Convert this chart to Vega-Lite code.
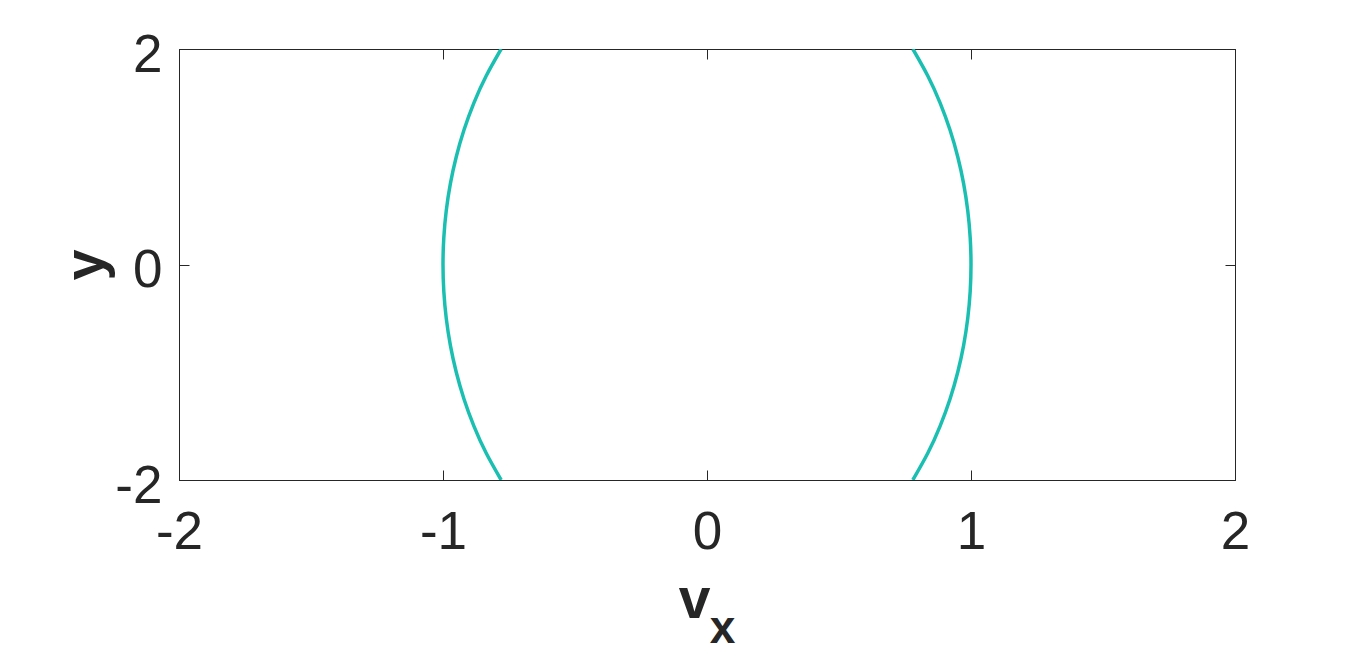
{
  "$schema": "https://vega.github.io/schema/vega-lite/v6.json",
  "width": 1056,
  "height": 431,
  "autosize": "none",
  "padding": {"left": 179, "top": 49, "right": 131, "bottom": 171},
  "background": "white",
  "config": {
    "view": {"stroke": "#262626", "strokeWidth": 1},
    "axis": {
      "grid": false,
      "domainColor": "#262626",
      "domainWidth": 1,
      "tickColor": "#262626",
      "tickWidth": 1,
      "tickSize": -10,
      "labelFont": "Liberation Sans",
      "labelFontSize": 53,
      "labelColor": "#262626",
      "labelFlush": false,
      "labelOverlap": false,
      "titleFont": "Liberation Sans",
      "titleColor": "#262626",
      "titleFontWeight": "bold"
    }
  },
  "data": {
    "values": [
      {"side": "R", "yv": -2, "vx": 0.77974},
      {"side": "R", "yv": -1.75, "vx": 0.83659},
      {"side": "R", "yv": -1.5, "vx": 0.88289},
      {"side": "R", "yv": -1.25, "vx": 0.92026},
      {"side": "R", "yv": -1, "vx": 0.94974},
      {"side": "R", "yv": -0.75, "vx": 0.97205},
      {"side": "R", "yv": -0.5, "vx": 0.98767},
      {"side": "R", "yv": -0.25, "vx": 0.99693},
      {"side": "R", "yv": 0, "vx": 1},
      {"side": "R", "yv": 0.25, "vx": 0.99693},
      {"side": "R", "yv": 0.5, "vx": 0.98767},
      {"side": "R", "yv": 0.75, "vx": 0.97205},
      {"side": "R", "yv": 1, "vx": 0.94974},
      {"side": "R", "yv": 1.25, "vx": 0.92026},
      {"side": "R", "yv": 1.5, "vx": 0.88289},
      {"side": "R", "yv": 1.75, "vx": 0.83659},
      {"side": "R", "yv": 2, "vx": 0.77974},
      {"side": "L", "yv": -2, "vx": -0.77974},
      {"side": "L", "yv": -1.75, "vx": -0.83659},
      {"side": "L", "yv": -1.5, "vx": -0.88289},
      {"side": "L", "yv": -1.25, "vx": -0.92026},
      {"side": "L", "yv": -1, "vx": -0.94974},
      {"side": "L", "yv": -0.75, "vx": -0.97205},
      {"side": "L", "yv": -0.5, "vx": -0.98767},
      {"side": "L", "yv": -0.25, "vx": -0.99693},
      {"side": "L", "yv": 0, "vx": -1},
      {"side": "L", "yv": 0.25, "vx": -0.99693},
      {"side": "L", "yv": 0.5, "vx": -0.98767},
      {"side": "L", "yv": 0.75, "vx": -0.97205},
      {"side": "L", "yv": 1, "vx": -0.94974},
      {"side": "L", "yv": 1.25, "vx": -0.92026},
      {"side": "L", "yv": 1.5, "vx": -0.88289},
      {"side": "L", "yv": 1.75, "vx": -0.83659},
      {"side": "L", "yv": 2, "vx": -0.77974}
    ]
  },
  "layer": [
    {
      "mark": {"type": "line", "color": "#1bbfb1", "strokeWidth": 3.5, "interpolate": "natural", "clip": true},
      "encoding": {
        "x": {
          "field": "vx", "type": "quantitative",
          "scale": {"domain": [-2, 2], "nice": false, "zero": false},
          "axis": {
            "orient": "bottom",
            "values": [-2, -1, 0, 1, 2],
            "labelExpr": "'' + datum.value",
            "labelPadding": 36,
            "title": "v",
            "titleFontSize": 57,
            "titleX": 515,
            "titleY": 137,
            "titleBaseline": "alphabetic",
            "titleAlign": "center"
          }
        },
        "y": {
          "field": "yv", "type": "quantitative",
          "scale": {"domain": [-2, 2], "nice": false, "zero": false},
          "axis": {
            "orient": "left",
            "values": [-2, 0, 2],
            "labelExpr": "'' + datum.value",
            "labelPadding": 27,
            "labelOffset": 6,
            "title": "y",
            "titleFontSize": 56,
            "titleAngle": 270,
            "titleX": -77,
            "titleY": 215.5,
            "titleBaseline": "alphabetic",
            "titleAlign": "center"
          }
        },
        "detail": {"field": "side", "type": "nominal"},
        "order": {"field": "yv", "type": "quantitative"}
      }
    },
    {
      "mark": {"type": "line", "opacity": 0},
      "encoding": {
        "x": {
          "field": "vx", "type": "quantitative",
          "scale": {"domain": [-2, 2], "nice": false, "zero": false},
          "axis": {
            "orient": "top",
            "values": [-2, -1, 0, 1, 2],
            "labels": false,
            "title": "x",
            "titleFontSize": 46,
            "titleAngle": 0,
            "titleX": 543,
            "titleY": 593,
            "titleBaseline": "alphabetic",
            "titleAlign": "center"
          }
        },
        "y": {
          "field": "yv", "type": "quantitative",
          "scale": {"domain": [-2, 2], "nice": false, "zero": false},
          "axis": {
            "orient": "right",
            "values": [-2, 0, 2],
            "labels": false,
            "title": null
          }
        },
        "detail": {"field": "side", "type": "nominal"},
        "order": {"field": "yv", "type": "quantitative"}
      }
    }
  ],
  "resolve": {"axis": {"x": "independent", "y": "independent"}}
}
